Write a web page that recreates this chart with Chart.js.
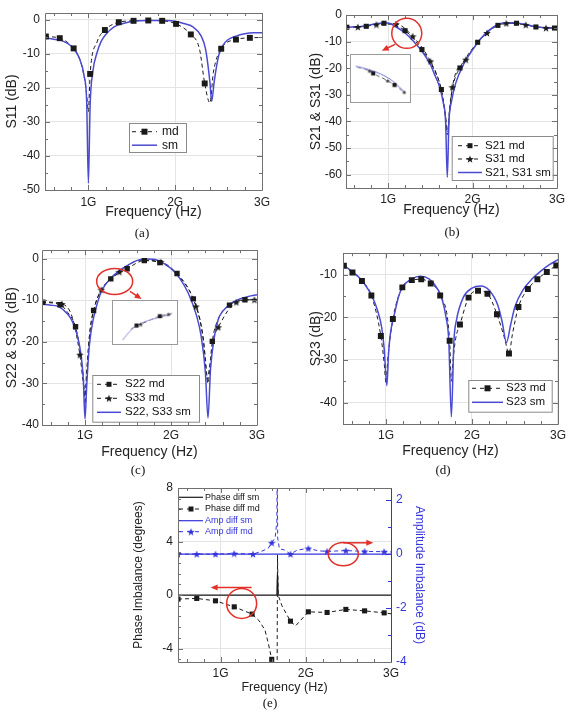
<!DOCTYPE html>
<html>
<head>
<meta charset="utf-8">
<script src="https://cdn.jsdelivr.net/npm/chart.js@4.4.1/dist/chart.umd.min.js"></script>
<style>
  body { margin: 0; background: #fff; width: 570px; height: 711px; position: relative; overflow: hidden; }
  canvas.panel { position: absolute; }
  canvas.inset { position: absolute; border: 1px solid #9a9a9a; background: #fff; }
  .cap { position: absolute; font-family: "Liberation Serif", serif; font-size: 13px; color: #111; transform: translate(-50%, -50%); }
</style>
</head>
<body>
<canvas id="chartA" class="panel" width="285" height="225" style="left:0;top:0"></canvas>
<canvas id="chartB" class="panel" width="285" height="225" style="left:285px;top:0"></canvas>
<canvas id="chartC" class="panel" width="285" height="225" style="left:0;top:240px"></canvas>
<canvas id="chartD" class="panel" width="285" height="225" style="left:285px;top:240px"></canvas>
<canvas id="chartE" class="panel" width="310" height="241" style="left:130px;top:470px"></canvas>
<canvas id="insetB" class="inset" width="61" height="49" style="left:350px;top:54px"></canvas>
<canvas id="insetC" class="inset" width="66" height="45" style="left:112px;top:300px"></canvas>
<div class="cap" style="left:142px;top:233px">(a)</div>
<div class="cap" style="left:452px;top:232px">(b)</div>
<div class="cap" style="left:138px;top:470px">(c)</div>
<div class="cap" style="left:443px;top:470px">(d)</div>
<div class="cap" style="left:270px;top:703px">(e)</div>

<script>
// ---- (a) S11 ----
const fA_sm = [0.5,0.6,0.7,0.8,0.85,0.9,0.95,0.98,1.0,1.02,1.05,1.1,1.15,1.2,1.3,1.4,1.5,1.7,1.9,2.0,2.1,2.2,2.3,2.35,2.4,2.42,2.45,2.5,2.55,2.6,2.7,2.8,2.9,3.0];
const s11_sm = [-5.3,-5.7,-6.2,-7.7,-9.1,-11.6,-16.4,-24,-48,-25,-15.4,-9.6,-6.2,-4.3,-2.0,-1.1,-0.5,-0.2,-0.2,-0.4,-1.1,-2.0,-4.8,-8.6,-18.3,-24,-18,-10.6,-7.5,-6.0,-4.8,-4.1,-3.8,-3.8];
const fA_mdLine = [0.5,0.67,0.83,0.9,0.95,0.98,1.0,1.02,1.1,1.19,1.35,1.52,1.69,1.85,2.01,2.18,2.28,2.34,2.4,2.44,2.53,2.7,2.86,3.0];
const s11_mdLine = [-4.9,-5.4,-8.4,-11.5,-16.5,-22,-27,-15.9,-6.5,-3.0,-0.7,-0.3,-0.2,-0.3,-1.2,-4.3,-8.6,-18.7,-24.4,-15.4,-8.5,-5.8,-5.3,-5.2];
const fA_md = [0.51,0.67,0.83,1.02,1.19,1.35,1.52,1.69,1.85,2.01,2.18,2.34,2.53,2.70,2.86];
const s11_md = [-4.9,-5.4,-8.4,-15.9,-3.0,-0.7,-0.3,-0.2,-0.3,-1.2,-4.3,-18.7,-8.5,-5.8,-5.3];

// ---- (b) S21 & S31 ----
const fB_sm = [0.5,0.7,0.9,1.0,1.1,1.2,1.3,1.4,1.5,1.55,1.6,1.65,1.68,1.7,1.72,1.75,1.8,1.9,2.0,2.1,2.2,2.3,2.4,2.5,2.6,2.7,2.8,3.0];
const s21_sm = [-4.6,-4.2,-3.1,-3.0,-4.6,-6.75,-9.9,-13.6,-18.6,-22.4,-26.25,-32.5,-40,-61,-40,-32.5,-25.6,-18.1,-13.1,-8.75,-5.6,-3.5,-2.9,-2.9,-3.4,-4.1,-4.6,-4.8];
const fB_s21Line = [0.5,0.74,0.95,1.2,1.4,1.55,1.63,1.67,1.7,1.73,1.78,1.85,2.06,2.3,2.52,2.75,3.0];
const s21_mdLine = [-4.6,-4.25,-3.1,-5.9,-13,-21,-28,-36,-45,-34,-25,-19.9,-10.25,-3.9,-3.1,-4.5,-4.9];
const fB_s31Line = [0.5,0.64,0.86,1.09,1.29,1.5,1.62,1.68,1.705,1.73,1.76,1.92,2.17,2.4,2.63,2.87,3.0];
const s31_mdLine = [-4.7,-4.5,-3.6,-3.4,-8,-17.4,-27,-38,-44,-36,-27.1,-16.75,-6.75,-3.1,-3.7,-4.9,-5.0];
const fB_s21 = [0.51,0.74,0.95,1.2,1.4,1.63,1.85,2.06,2.3,2.52,2.75,2.97];
const s21_md = [-4.6,-4.25,-3.1,-5.9,-13.0,-28.0,-19.9,-10.25,-3.9,-3.1,-4.5,-4.9];
const fB_s31 = [0.64,0.86,1.09,1.29,1.5,1.76,1.92,2.17,2.4,2.63,2.87];
const s31_md = [-4.5,-3.6,-3.4,-8.0,-17.4,-27.1,-16.75,-6.75,-3.1,-3.7,-4.9];
// inset of (b)
const fBin_sm = [1.006,1.104,1.201,1.299,1.392];
const bin_sm = [-3.08,-3.97,-5.24,-7.32,-10.5];
const fBin_mdLine = [1.02,1.114,1.143,1.255,1.309,1.385];
const bin_mdLine = [-3.3,-4.35,-5.08,-7.1,-8.3,-10.3];
const fBin_s21 = [1.143,1.309];
const bin_s21 = [-5.08,-8.3];
const fBin_s31 = [1.114,1.255,1.385];
const bin_s31 = [-4.35,-7.1,-10.3];

// ---- (c) S22 & S33 ----
const fC_sm = [0.5,0.6,0.7,0.8,0.85,0.9,0.95,0.98,1.0,1.02,1.05,1.1,1.15,1.2,1.3,1.4,1.5,1.6,1.7,1.8,1.9,2.0,2.1,2.2,2.3,2.35,2.4,2.43,2.46,2.5,2.55,2.6,2.7,2.8,2.9,3.0];
const s22_sm = [-11.0,-11.2,-11.6,-13.4,-15,-17.7,-22.6,-28.9,-38.5,-30.5,-21,-14.2,-10.3,-7.5,-4.7,-2.9,-1.6,-0.5,-0.1,-0.2,-1.0,-2.4,-4.7,-8.3,-13.9,-18.6,-27.3,-38.3,-26.5,-19.4,-14.6,-12.7,-10.8,-9.7,-9.1,-8.7];
const fC_s22Line = [0.5,0.71,0.8,0.89,0.95,0.99,1.0,1.02,1.05,1.1,1.2,1.3,1.49,1.69,1.87,2.07,2.26,2.35,2.4,2.43,2.46,2.48,2.55,2.68,2.86,3.0];
const s22_mdLine = [-10.5,-11.1,-13,-16.4,-23,-31,-35,-28,-19,-12.5,-7.3,-4.9,-2.45,-0.5,-1.0,-3.6,-9.7,-16,-24,-30,-24,-19.9,-14.5,-11.2,-9.9,-9.9];
const fC_s33Line = [0.5,0.73,0.85,0.94,0.98,1.0,1.02,1.06,1.12,1.19,1.4,1.65,1.88,2.08,2.29,2.38,2.42,2.45,2.5,2.55,2.76,2.97,3.0];
const s33_mdLine = [-10.4,-10.9,-14,-23.1,-30,-33,-27,-17,-11,-7.5,-3.2,-0.4,-0.8,-4,-11.5,-20,-29,-26,-19,-16.5,-10.5,-9.9,-9.9];
const fC_s22 = [0.51,0.71,0.89,1.10,1.30,1.49,1.69,1.87,2.07,2.26,2.48,2.68,2.86];
const s22_md = [-10.5,-11.1,-16.4,-12.5,-4.9,-2.45,-0.5,-1.0,-3.6,-9.7,-19.9,-11.2,-9.9];
const fC_s33 = [0.73,0.94,1.19,1.40,1.88,2.29,2.55,2.76,2.97];
const s33_md = [-10.9,-23.1,-7.5,-3.2,-0.8,-11.5,-16.5,-10.5,-9.9];
// inset of (c)
const fCin_sm = [1.19,1.24,1.30,1.40,1.50,1.54];
const cin_sm = [-10,-7.8,-6.1,-4.7,-3.76,-3.3];
const fCin_mdLine = [1.25,1.29,1.32,1.456,1.516,1.54];
const cin_mdLine = [-7.2,-6.26,-5.9,-3.9,-3.4,-3.2];
const fCin_s22 = [1.29,1.456];
const cin_s22 = [-6.26,-3.9];
const fCin_s33 = [1.32,1.516];
const cin_s33 = [-5.9,-3.4];

// ---- (d) S23 ----
const fD_sm = [0.5,0.6,0.7,0.8,0.85,0.9,0.95,0.98,1.01,1.03,1.05,1.1,1.15,1.2,1.3,1.4,1.5,1.6,1.65,1.7,1.73,1.76,1.79,1.82,1.9,2.0,2.1,2.2,2.3,2.35,2.4,2.45,2.5,2.6,2.7,2.8,2.9,3.0];
const s23_sm = [-7.7,-9.2,-10.9,-13.7,-15.6,-18.3,-22.4,-27.7,-36,-28.5,-24,-19.1,-14.9,-12.7,-11,-10.4,-11,-13.4,-15.6,-20.2,-25.5,-43.3,-25.5,-20.6,-15.3,-13.2,-12.7,-13.7,-17.2,-21,-25.9,-21.7,-17.5,-13.4,-11,-9.2,-7.7,-6.5];
const fD_mdLine = [0.5,0.61,0.72,0.83,0.94,0.98,1.0,1.02,1.08,1.19,1.3,1.41,1.52,1.63,1.74,1.76,1.78,1.81,1.86,1.96,2.07,2.18,2.29,2.38,2.43,2.47,2.54,2.65,2.76,2.87,2.98,3.0];
const s23_mdLine = [-7.9,-9.5,-11.5,-14.9,-24.4,-31,-35.5,-30,-20.4,-13.0,-11.3,-11.1,-12.1,-14.9,-25.5,-35,-30,-25,-21.7,-15.4,-13.8,-14.5,-19.3,-25,-28.5,-24,-17.6,-13.4,-11.1,-9.4,-7.9,-7.7];
const fD_md = [0.51,0.61,0.72,0.83,0.94,1.08,1.19,1.30,1.41,1.52,1.63,1.74,1.86,1.96,2.07,2.18,2.29,2.43,2.54,2.65,2.76,2.87,2.98];
const s23_md = [-7.96,-9.5,-11.5,-14.9,-24.4,-20.4,-13.0,-11.3,-11.1,-12.1,-14.9,-25.5,-21.7,-15.4,-13.8,-14.5,-19.3,-28.5,-17.6,-13.4,-11.1,-9.4,-7.9];

// ---- (e) phase / amplitude imbalance ----
const fE_phaseSm = [0.5,1.66,1.668,1.676,3.0];
const phase_sm = [0,0,1.7,0,0];
const fE_phaseLine = [0.5,0.72,0.94,1.16,1.37,1.45,1.52,1.56,1.6,1.64,1.663,1.668,1.675,1.72,1.82,1.88,2.03,2.25,2.47,2.69,2.92,3.0];
const phase_mdLine = [-0.3,-0.25,-0.43,-0.88,-1.42,-1.9,-2.6,-3.6,-4.8,-6,-6,3,0,-0.8,-1.95,-2.3,-1.25,-1.3,-1.07,-1.18,-1.33,-1.4];
const fE_phase = [0.5,0.72,0.94,1.16,1.37,1.6,1.82,2.03,2.25,2.47,2.69,2.92];
const phase_md = [-0.3,-0.25,-0.43,-0.88,-1.42,-4.8,-1.95,-1.25,-1.3,-1.07,-1.18,-1.33];
const fE_ampSm = [0.5,3.0];
const amp_sm = [0,0];
const fE_ampLine = [0.5,0.72,0.94,1.16,1.38,1.48,1.56,1.6,1.64,1.66,1.665,1.67,1.69,1.75,1.82,1.9,2.03,2.15,2.25,2.47,2.69,2.92,3.0];
const amp_mdLine = [0,0,0,0.02,0,0.1,0.22,0.42,0.6,1.2,3.5,0.6,0.2,0.15,0,0.15,0.21,0.12,0.1,0.13,0.1,0.09,0.08];
const fE_amp = [0.5,0.72,0.94,1.16,1.38,1.6,1.82,2.03,2.25,2.47,2.69,2.92];
const amp_md = [0,0,0,0.02,0,0.42,0,0.21,0.1,0.13,0.1,0.09];

const freqTicks = [0.6,0.8,1.0,1.2,1.4,1.6,1.8,2.0,2.2,2.4,2.6,2.8,3.0];

// ---- helpers ----
const BLUE = '#4a4ad2';
const BLUE_E = '#3434dc';
const BLACK = '#1a1a1a';
const FRAME = '#707070';
const RED = '#e2302a';
Chart.defaults.font.family = '"Liberation Sans", Arial, sans-serif';
Chart.defaults.color = '#222';

const pts = (xs, ys) => xs.map((x, i) => ({x: x, y: ys[i]}));
const isMajor = (v, step) => Math.abs(v / step - Math.round(v / step)) < 1e-6;
function seq(a, b, step) {
  const out = [];
  for (let v = a; v <= b + 1e-9; v += step) out.push(Math.round(v * 1000) / 1000);
  return out;
}

function makeStar(size, color) {
  const c = document.createElement('canvas');
  c.width = c.height = size;
  const g = c.getContext('2d');
  const r = size / 2, ri = r * 0.42;
  g.beginPath();
  for (let i = 0; i < 10; i++) {
    const a = -Math.PI / 2 + i * Math.PI / 5;
    const rr = i % 2 ? ri : r;
    g.lineTo(r + rr * Math.cos(a), r + rr * Math.sin(a) + 0.4);
  }
  g.closePath();
  g.fillStyle = color;
  g.fill();
  return c;
}
const starBlack = makeStar(8, BLACK);
const starBlue = makeStar(8, BLUE_E);
const starSmall = makeStar(5, '#333');

function smSet(xs, ys, color, w) {
  return {data: pts(xs, ys), showLine: true, borderColor: color || BLUE, borderWidth: w || 1.5,
          pointRadius: 0, cubicInterpolationMode: 'monotone'};
}
function mdSet(xs, ys, color, w) {
  return {data: pts(xs, ys), showLine: true, borderColor: color || BLACK, borderWidth: w || 1,
          borderDash: [4, 3], pointRadius: 0, cubicInterpolationMode: 'monotone'};
}
function markSet(xs, ys, style, r, color) {
  return {data: pts(xs, ys), showLine: false, pointStyle: style, pointRadius: r,
          backgroundColor: color || BLACK, borderColor: color || BLACK, borderWidth: 0};
}

function drawMarker(ctx, m, x, y) {
  if (!m) return;
  if (m.img) { ctx.drawImage(m.img, x - m.img.width / 2, y - m.img.height / 2); return; }
  ctx.fillStyle = m.color;
  ctx.fillRect(x - m.s / 2, y - m.s / 2, m.s, m.s);
}

// frame with inward ticks on all four sides
const framePlugin = {
  id: 'frame',
  afterDatasetsDraw(chart, args, o) {
    const {ctx, chartArea: a, scales} = chart;
    ctx.save();
    ctx.lineWidth = 1;
    const tick = (p, side, len) => {
      ctx.beginPath();
      if (side === 'bottom') { ctx.moveTo(p, a.bottom); ctx.lineTo(p, a.bottom - len); }
      if (side === 'top') { ctx.moveTo(p, a.top); ctx.lineTo(p, a.top + len); }
      if (side === 'left') { ctx.moveTo(a.left, p); ctx.lineTo(a.left + len, p); }
      if (side === 'right') { ctx.moveTo(a.right, p); ctx.lineTo(a.right - len, p); }
      ctx.stroke();
    };
    const run = (scale, sides, color) => {
      ctx.strokeStyle = color;
      scale.ticks.forEach(t => {
        const p = Math.round(scale.getPixelForValue(t.value)) + 0.5;
        const len = isMajor(t.value, scale.options.majorStep) ? 5 : 3;
        sides.forEach(s => tick(p, s, len));
      });
    };
    run(scales.x, ['bottom', 'top'], FRAME);
    if (scales.y2) {
      run(scales.y, ['left'], FRAME);
      run(scales.y2, ['right'], BLUE_E);
    } else {
      run(scales.y, ['left', 'right'], FRAME);
    }
    const L = Math.round(a.left) + 0.5, R = Math.round(a.right) + 0.5;
    const T = Math.round(a.top) + 0.5, B = Math.round(a.bottom) + 0.5;
    ctx.strokeStyle = FRAME;
    ctx.beginPath();
    ctx.moveTo(R, T); ctx.lineTo(L, T); ctx.lineTo(L, B); ctx.lineTo(R, B);
    if (!scales.y2) ctx.lineTo(R, T);
    ctx.stroke();
    if (scales.y2) {
      ctx.strokeStyle = BLUE_E;
      ctx.beginPath(); ctx.moveTo(R, T); ctx.lineTo(R, B); ctx.stroke();
    }
    ctx.restore();
  }
};

// red circles with arrows, centred on data values
const notePlugin = {
  id: 'notes',
  afterDraw(chart, args, o) {
    if (!o.items) return;
    const ctx = chart.ctx;
    ctx.save();
    ctx.strokeStyle = RED;
    ctx.fillStyle = RED;
    ctx.lineWidth = 1.5;
    o.items.forEach(m => {
      const cx = chart.scales.x.getPixelForValue(m.x);
      const cy = chart.scales[m.axis || 'y'].getPixelForValue(m.y);
      ctx.beginPath();
      ctx.ellipse(cx, cy, m.rx, m.ry, 0, 0, Math.PI * 2);
      ctx.stroke();
      const [x0, y0, x1, y1] = m.arrow;
      const ax = cx + x0, ay = cy + y0, bx = cx + x1, by = cy + y1;
      const ang = Math.atan2(by - ay, bx - ax);
      ctx.beginPath(); ctx.moveTo(ax, ay);
      ctx.lineTo(bx - 4 * Math.cos(ang), by - 4 * Math.sin(ang)); ctx.stroke();
      ctx.beginPath();
      ctx.moveTo(bx, by);
      ctx.lineTo(bx - 7 * Math.cos(ang) + 3 * Math.sin(ang), by - 7 * Math.sin(ang) - 3 * Math.cos(ang));
      ctx.lineTo(bx - 7 * Math.cos(ang) - 3 * Math.sin(ang), by - 7 * Math.sin(ang) + 3 * Math.cos(ang));
      ctx.closePath(); ctx.fill();
    });
    ctx.restore();
  }
};

// legend drawn inside the plot
const legendPlugin = {
  id: 'legendBox',
  afterDraw(chart, args, o) {
    if (!o.items) return;
    const ctx = chart.ctx;
    ctx.save();
    if (o.box) {
      ctx.fillStyle = '#fff';
      ctx.fillRect(o.box[0], o.box[1], o.box[2], o.box[3]);
      ctx.strokeStyle = '#8a8a8a'; ctx.lineWidth = 1;
      ctx.strokeRect(o.box[0] + 0.5, o.box[1] + 0.5, o.box[2], o.box[3]);
    }
    ctx.font = o.font;
    ctx.textBaseline = 'middle';
    o.items.forEach((it, i) => {
      const y = o.rows[i];
      ctx.strokeStyle = it.color;
      ctx.lineWidth = it.width || 1;
      ctx.setLineDash(it.dash || []);
      ctx.beginPath(); ctx.moveTo(o.sx0, y); ctx.lineTo(o.sx1, y); ctx.stroke();
      ctx.setLineDash([]);
      drawMarker(ctx, it.marker, (o.sx0 + o.sx1) / 2, y);
      ctx.fillStyle = it.textColor || '#111';
      ctx.fillText(it.label, o.tx, y);
    });
    ctx.restore();
  }
};

function xAxis(h, pad, size) {
  return {
    type: 'linear', min: 0.5, max: 3, majorStep: 1,
    afterBuildTicks: s => { s.ticks = freqTicks.map(v => ({value: v})); },
    afterFit: s => { s.height = h; },
    ticks: {callback: v => isMajor(v, 1) ? v + 'G' : '', autoSkip: false, maxRotation: 0,
            padding: pad, font: {size: size || 12}, color: '#222'},
    grid: {drawTicks: false, color: c => isMajor(c.tick.value, 1) ? '#e4e4e4' : 'rgba(0,0,0,0)'},
    border: {display: false},
    title: {display: true, text: 'Frequency (Hz)', font: {size: size ? size + 0.5 : 14}, color: '#222'}
  };
}
function yAxis(min, max, minor, major, w, pad, title, extra) {
  const t = seq(Math.ceil(min / minor) * minor, max, minor);
  return Object.assign({
    type: 'linear', min: min, max: max, majorStep: major,
    afterBuildTicks: s => { s.ticks = t.map(v => ({value: v})); },
    afterFit: s => { s.width = w; },
    ticks: {callback: v => isMajor(v, major) ? String(Math.round(v)) : '', autoSkip: false,
            padding: pad, font: {size: 12}, color: '#222'},
    grid: {drawTicks: false, color: c => isMajor(c.tick.value, major) ? '#e4e4e4' : 'rgba(0,0,0,0)'},
    border: {display: false},
    title: {display: true, text: title, font: {size: 14}, color: '#222'}
  }, extra || {});
}

function makeChart(id, datasets, scales, padding, plugins) {
  return new Chart(document.getElementById(id), {
    type: 'scatter',
    data: {datasets: datasets},
    options: {
      responsive: false, animation: false,
      layout: {padding: padding},
      scales: scales,
      plugins: Object.assign({legend: {display: false}, tooltip: {enabled: false}}, plugins)
    },
    plugins: [framePlugin, notePlugin, legendPlugin]
  });
}

const mdItem = (label, marker) => ({label: label, color: BLACK, dash: [4, 4], marker: marker});
const smItem = (label) => ({label: label, color: BLUE, width: 1.5});
const SQ = {s: 6, color: BLACK};

// (a)
makeChart('chartA', [
  markSet(fA_md, s11_md, 'rect', 4.2),
  smSet(fA_sm, s11_sm),
  mdSet(fA_mdLine, s11_mdLine)
], {
  x: xAxis(35, 5),
  y: yAxis(-50, 2, 5, 10, 45, 5, 'S11 (dB)')
}, {left: 0, top: 13, right: 23, bottom: 0}, {
  legendBox: {box: [129, 123, 57, 29], font: '12px "Liberation Sans"', rows: [131.7, 145.2],
              sx0: 132, sx1: 157, tx: 162, items: [mdItem('md', SQ), smItem('sm')]}
});

// (b)
makeChart('chartB', [
  markSet(fB_s21, s21_md, 'rect', 3.6),
  markSet(fB_s31, s31_md, starBlack, 4),
  smSet(fB_sm, s21_sm),
  mdSet(fB_s21Line, s21_mdLine),
  mdSet(fB_s31Line, s31_mdLine)
], {
  x: xAxis(35, 4),
  y: yAxis(-65, 0, 5, 10, 42, 4, 'S21 & S31 (dB)')
}, {left: 19, top: 15, right: 13, bottom: 2}, {
  notes: {items: [{x: 1.22, y: -6.9, rx: 15, ry: 15, arrow: [-11.7, 11, -25, 17.4]}]},
  legendBox: {box: [166.7, 136, 101, 44], font: '11.5px "Liberation Sans"', rows: [145.7, 159, 172.5],
              sx0: 173, sx1: 197, tx: 200,
              items: [mdItem('S21 md', {s: 5, color: BLACK}), mdItem('S31 md', {img: starBlack}), smItem('S21, S31 sm')]}
});

// (c)
makeChart('chartC', [
  markSet(fC_s22, s22_md, 'rect', 3.8),
  markSet(fC_s33, s33_md, starBlack, 4),
  smSet(fC_sm, s22_sm),
  mdSet(fC_s22Line, s22_mdLine),
  mdSet(fC_s33Line, s33_mdLine)
], {
  x: xAxis(40, 3),
  y: yAxis(-40, 2, 5, 10, 42, 3, 'S22 & S33  (dB)')
}, {left: 0, top: 9, right: 28, bottom: 0}, {
  notes: {items: [{x: 1.345, y: -5.5, rx: 18, ry: 13, arrow: [15.3, 10, 27, 17.7]}]},
  legendBox: {box: [92.3, 135, 106.7, 46.7], font: '11.5px "Liberation Sans"', rows: [144.3, 158.3, 172.3],
              sx0: 97, sx1: 121, tx: 125,
              items: [mdItem('S22 md', {s: 5, color: BLACK}), mdItem('S33 md', {img: starBlack}), smItem('S22, S33 sm')]}
});

// (d)
makeChart('chartD', [
  markSet(fD_md, s23_md, 'rect', 4.2),
  smSet(fD_sm, s23_sm),
  mdSet(fD_mdLine, s23_mdLine)
], {
  x: xAxis(40, 4),
  y: yAxis(-45, -5, 5, 10, 39, 6, 'S23 (dB)')
}, {left: 19, top: 8, right: 11, bottom: 1}, {
  legendBox: {box: [183.3, 140, 83.4, 31.7], font: '11.5px "Liberation Sans"', rows: [148.3, 162.3],
              sx0: 187, sx1: 218, tx: 221,
              items: [mdItem('S23 md', {s: 6, color: BLACK}), smItem('S23 sm')]}
});

// (e)
const yE = yAxis(-5, 8, 0.8, 4, 48, 5, 'Phase Imbalance (degrees)');
yE.afterBuildTicks = s => { s.ticks = seq(-4.8, 8, 0.8).map(v => ({value: v})); };
yE.title.font = {size: 12};
yE.title.padding = {top: 1, bottom: 4};
const y2E = {
  type: 'linear', position: 'right', min: -4, max: 2.45, majorStep: 2,
  afterBuildTicks: s => { s.ticks = seq(-4, 2, 1).map(v => ({value: v})); },
  afterFit: s => { s.width = 40; },
  ticks: {callback: v => isMajor(v, 2) ? String(v) : '', autoSkip: false, padding: 5,
          font: {size: 12}, color: BLUE_E},
  grid: {display: false, drawTicks: false},
  border: {display: false},
  title: {display: true, text: 'Amplitude Imbalance (dB)', font: {size: 12}, color: BLUE_E}
};
makeChart('chartE', [
  markSet(fE_phase, phase_md, 'rect', 3.6),
  Object.assign(markSet(fE_amp, amp_md, starBlue, 4, BLUE_E), {yAxisID: 'y2'}),
  Object.assign(smSet(fE_ampSm, amp_sm, BLUE_E, 1.3), {yAxisID: 'y2'}),
  smSet(fE_phaseSm, phase_sm, BLACK, 1.2),
  Object.assign(mdSet(fE_ampLine, amp_mdLine, BLUE_E), {yAxisID: 'y2', cubicInterpolationMode: 'default'}),
  Object.assign(mdSet(fE_phaseLine, phase_mdLine), {cubicInterpolationMode: 'default'})
], {
  x: xAxis(37, 4, 12),
  y: yE,
  y2: y2E
}, {left: 0, top: 18, right: 9, bottom: 12}, {
  notes: {items: [
    {x: 1.247, y: -0.62, rx: 15, ry: 15, arrow: [10, -16, -31, -16]},
    {x: 2.44, y: 0, axis: 'y2', rx: 15, ry: 11.7, arrow: [0, -11.3, 30, -11.3]}
  ]},
  legendBox: {font: '9px "Liberation Sans"', rows: [27.3, 39, 50.7, 61.7], sx0: 49, sx1: 73, tx: 75,
              items: [
                {label: 'Phase diff sm', color: BLACK, width: 1.2},
                {label: 'Phase diff md', color: BLACK, dash: [4, 4], marker: {s: 5, color: BLACK}},
                {label: 'Amp diff sm', color: BLUE_E, width: 1.2, textColor: BLUE_E},
                {label: 'Amp diff md', color: BLUE_E, dash: [4, 4], marker: {img: starBlue}, textColor: BLUE_E}
              ]}
});

// zoomed insets
function makeInset(id, datasets, xr, yr) {
  return new Chart(document.getElementById(id), {
    type: 'scatter',
    data: {datasets: datasets},
    options: {
      responsive: false, animation: false,
      layout: {padding: 0},
      scales: {x: {display: false, min: xr[0], max: xr[1]}, y: {display: false, min: yr[0], max: yr[1]}},
      plugins: {legend: {display: false}, tooltip: {enabled: false}}
    }
  });
}
makeInset('insetB', [
  markSet(fBin_s21, bin_s21, 'rect', 3),
  markSet(fBin_s31, bin_s31, starSmall, 3),
  smSet(fBin_sm, bin_sm, '#6a6ad8', 1),
  mdSet(fBin_mdLine, bin_mdLine, '#333', 0.8)
], [1.0, 1.4], [-12, -1]);
makeInset('insetC', [
  markSet(fCin_s22, cin_s22, 'rect', 3),
  markSet(fCin_s33, cin_s33, starSmall, 3),
  smSet(fCin_sm, cin_sm, '#8a8ad8', 1),
  mdSet(fCin_mdLine, cin_mdLine, '#333', 0.8)
], [1.15, 1.55], [-10, -1]);
</script>
</body>
</html>
